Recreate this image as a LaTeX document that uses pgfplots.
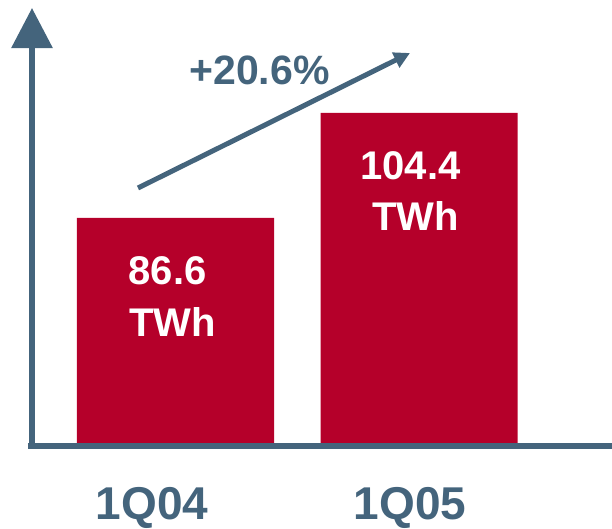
\documentclass[border=0pt]{standalone}
\usepackage{pgfplots}
\pgfplotsset{compat=1.18}
\usepackage{fontspec}
\setmainfont{Liberation Sans}
\usetikzlibrary{arrows.meta}
\definecolor{barred}{HTML}{B5002A}
\definecolor{axblue}{HTML}{44647C}
\begin{document}
\begin{tikzpicture}
\useasboundingbox (0,0) rectangle (612pt,528pt);
\begin{axis}[
  at={(32pt,82pt)}, anchor=south west,
  scale only axis, width=580pt, height=438pt,
  xmin=-0.5893, xmax=1.7926,
  ymin=47.94, ymax=122.2,
  axis lines=left,
  axis on top,
  clip=false,
  x axis line style={-, line width=6pt, color=axblue, shorten <=-4pt},
  y axis line style={-{Triangle[width=40pt,length=40pt]}, line width=6pt, color=axblue},
  ytick=\empty,
  xtick={-0.0965,0.963},
  xticklabels={1Q04,1Q05},
  major tick length=0pt,
  xticklabel style={anchor=base, inner sep=0pt, yshift=-73pt, text=axblue, font=\fontsize{46}{52}\selectfont\bfseries},
  ybar, bar width=197pt,
]
\addplot[fill=barred, draw=none] coordinates {(0,86.6) (1,104.4)};
\node[anchor=base, text=white, font=\fontsize{40}{48}\selectfont\bfseries, xshift=-8pt, yshift=-67pt] at (axis cs:0,86.6) {86.6};
\node[anchor=base, text=white, font=\fontsize{40}{48}\selectfont\bfseries, xshift=-3pt, yshift=-119pt] at (axis cs:0,86.6) {TWh};
\node[anchor=base, text=white, font=\fontsize{40}{48}\selectfont\bfseries, xshift=-8.5pt, yshift=-67pt] at (axis cs:1,104.4) {104.4};
\node[anchor=base, text=white, font=\fontsize{40}{48}\selectfont\bfseries, xshift=-3.5pt, yshift=-118pt] at (axis cs:1,104.4) {TWh};
\end{axis}
\draw[axblue, line width=5pt, -{Triangle[width=16pt,length=16pt]}] (138pt,340pt) -- (410pt,475pt);
\node[anchor=base, text=axblue, font=\fontsize{41}{48}\selectfont\bfseries] at (259.5pt,443pt) {+20.6\%};
\end{tikzpicture}
\end{document}
